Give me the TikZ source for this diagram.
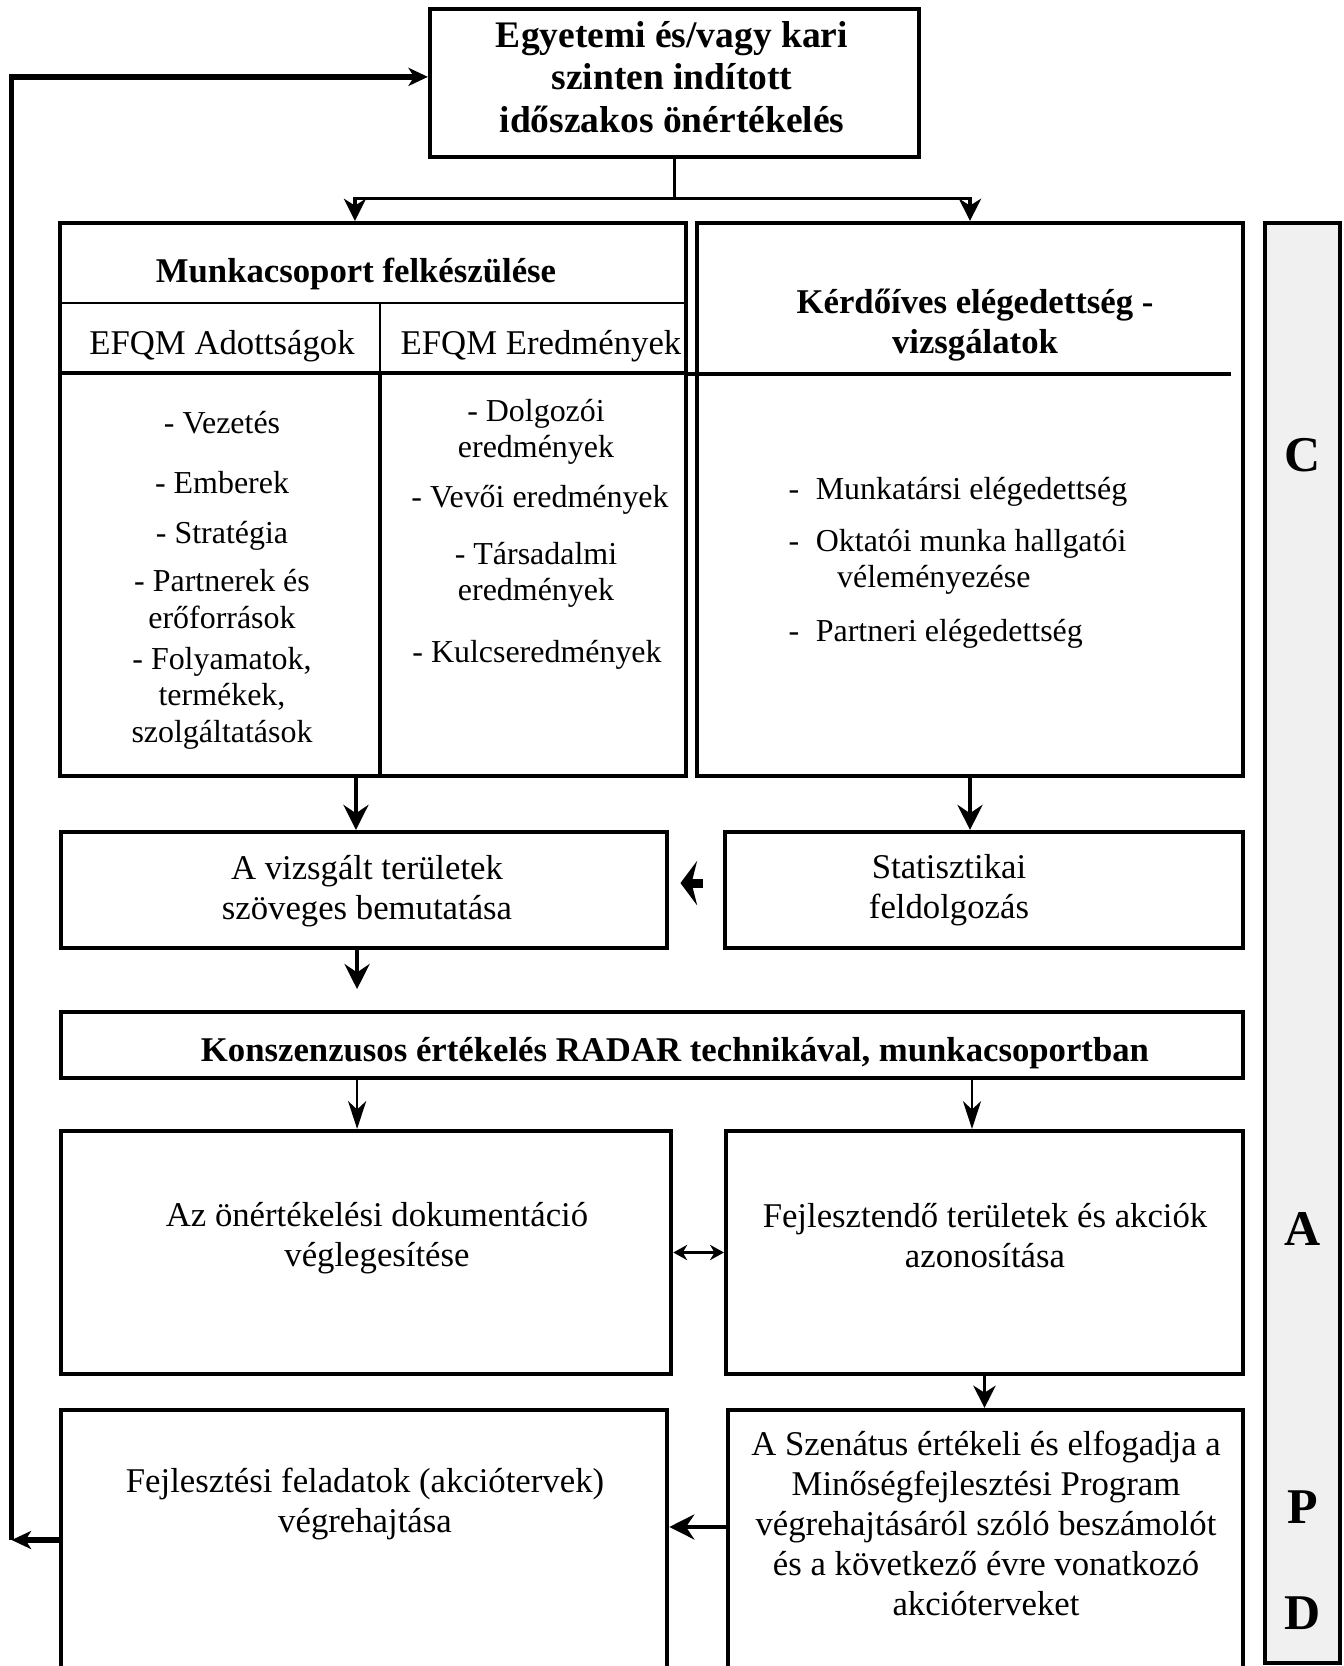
\documentclass[tikz,border=0pt]{standalone}
\usepackage{fontspec}
\setmainfont{Liberation Serif}
\usetikzlibrary{arrows.meta}

\begin{document}
\begin{tikzpicture}[
   x=0.36pt, y=-0.36pt,
   font=\fontsize{12.5}{14.4}\selectfont,
   sz/.style 2 args={minimum width=#1*0.36pt, minimum height=#2*0.36pt},
   box/.style={draw, line width=1.5pt, inner sep=0pt},
   strip/.style={draw, line width=1.5pt, fill=black!6, inner sep=0pt},
   txt/.style={align=center, inner sep=0pt},
   item/.style={align=center, inner sep=0pt, font=\fontsize{11.5}{13.1}\selectfont},
   head/.style={align=center, inner sep=0pt, font=\bfseries\fontsize{12.5}{14.2}\selectfont},
   title/.style={align=center, inner sep=0pt, font=\bfseries\fontsize{13.5}{15.3}\selectfont},
   letter/.style={inner sep=0pt, font=\bfseries\fontsize{18}{18}\selectfont},
   split/.style={-{Stealth[length=8pt,width=8pt,inset=2.5pt]}, line width=1.2pt},
   big/.style={-{Stealth[length=9pt,width=9pt,inset=3pt]}, line width=1.5pt},
   thin/.style={-{Stealth[length=10pt,width=6.5pt,inset=3pt]}, line width=0.9pt},
   wide/.style={-{Stealth[length=6pt,width=16pt,inset=2pt]}, line width=3.2pt},
   both/.style={{Stealth[length=5pt,width=5.5pt]}-{Stealth[length=5pt,width=5.5pt]}, line width=1pt},
   back/.style={-{Stealth[length=7pt,width=6.5pt,inset=2pt]}, line width=2pt}]
\useasboundingbox (0,0) rectangle (1344,1666);
\clip (0,0) rectangle (1344,1666);
% boxes
\node[box, sz={489}{148.5}] (top) at (674.5,83) {};
\node[box, sz={625.5}{553}] (munka) at (373,499.5) {};
\node[box, sz={546}{553}] (kerdo) at (970,499.5) {};
\node[box, sz={606.5}{116}] (vizsgalt) at (364,890) {};
\node[box, sz={518}{116}] (statiszt) at (984,890) {};
\node[box, sz={1182.5}{66}] (radar) at (652,1045) {};
\node[box, sz={610.5}{243}] (dokum) at (366,1252.5) {};
\node[box, sz={517}{243}] (fejl) at (984.5,1252.5) {};
\node[box, sz={606.5}{350}] (vegreh) at (364,1585) {};
\node[box, sz={515}{350}] (szenat) at (985.5,1585) {};
\node[strip, sz={75}{1440}] (pdca) at (1302.5,943) {};
% table lines
\draw[line width=1pt] (munka.west |- 0,303) -- (munka.east |- 0,303);
\draw[line width=1pt] (380,303) -- (380,373);
\draw[line width=1.5pt] (munka.west |- 0,373) -- (munka.east |- 0,373);
\draw[line width=1.5pt] (380,373) -- (380,776);
\draw[line width=1.3pt] (munka.east |- 0,374) -- (1231,374);
% texts
\node[title] (tlab) at (672,77) {Egyetemi és/vagy kari\\szinten indított\\időszakos önértékelés};
\node[head] (mlab) at (356,274) {Munkacsoport felkészülése};
\node[txt] (adot) at (222,346) {EFQM Adottságok};
\node[txt] (ered) at (541,346) {EFQM Eredmények};
\node[item] (vez) at (222,423) {- Vezetés};
\node[item] (emb) at (222,483) {- Emberek};
\node[item] (strat) at (222,536) {- Stratégia};
\node[item] (part) at (222,599) {- Partnerek és\\erőforrások};
\node[item] (foly) at (222,698) {- Folyamatok,\\termékek,\\szolgáltatások};
\node[item] (dolg) at (536,432) {- Dolgozói\\eredmények};
\node[item] (vevo) at (540,500) {- Vevői eredmények};
\node[item] (tars) at (536,575) {- Társadalmi\\eredmények};
\node[item] (kulcs) at (537,655) {- Kulcseredmények};
\node[head] (klab) at (975,325) {Kérdőíves elégedettség -\\vizsgálatok};
\node[item, anchor=west] (munk) at (788,492) {-\hspace{6pt}Munkatársi elégedettség};
\node[item, align=left, anchor=west] (okt) at (788,562) {-\hspace{6pt}Oktatói munka hallgatói\\\hspace*{17.5pt}véleményezése};
\node[item, anchor=west] (partn) at (788,634) {-\hspace{6pt}Partneri elégedettség};
\node[txt] (vlab) at (367,891) {A vizsgált területek\\szöveges bemutatása};
\node[txt] (slab) at (949,890) {Statisztikai\\feldolgozás};
\node[head] (rlab) at (675,1053) {Konszenzusos értékelés RADAR technikával, munkacsoportban};
\node[txt] (dlab) at (377,1238) {Az önértékelési dokumentáció\\véglegesítése};
\node[txt] (flab) at (985,1236) {Fejlesztendő területek és akciók\\azonosítása};
\node[txt] (glab) at (365,1504) {Fejlesztési feladatok (akciótervek)\\végrehajtása};
\node[txt] (zlab) at (986,1523) {A Szenátus értékeli és elfogadja a\\Minőségfejlesztési Program\\végrehajtásáról szóló beszámolót\\és a következő évre vonatkozó\\akcióterveket};
\node[letter] (c) at (1303,455) {C};
\node[letter] (a) at (1303,1229) {A};
\node[letter] (p) at (1303,1507) {P};
\node[letter] (d) at (1303,1613) {D};
% connectors
\draw[line width=1.2pt] (top.south) -- ++(0,39) coordinate (fork);
\draw[split] (fork) -| ([xshift=-6.5pt]munka.north);
\draw[split] (fork) -| (kerdo.north);
\draw[big] ([xshift=-2.9pt]vizsgalt.north |- munka.south) -- ([xshift=-2.9pt]vizsgalt.north);
\draw[big] (kerdo.south) -- (kerdo.south |- statiszt.north);
\draw[wide, shorten <=7pt, shorten >=4pt] ([yshift=2.5pt]statiszt.west) -- ([yshift=2.5pt]vizsgalt.east);
\draw[big, shorten >=7.5pt] ([xshift=-2.5pt]vizsgalt.south) -- ([xshift=-2.5pt]vizsgalt.south |- radar.north);
\draw[thin] ([xshift=-3.2pt]dokum.north |- radar.south) -- ([xshift=-3.2pt]dokum.north);
\draw[thin] ([xshift=-4.5pt]fejl.north |- radar.south) -- ([xshift=-4.5pt]fejl.north);
\draw[both] (dokum.east) -- (fejl.west);
\draw[split] (fejl.south) -- (fejl.south |- szenat.north);
\draw[big] ([yshift=20.9pt]szenat.west) -- ([yshift=20.9pt]vegreh.east);
\draw[back] ([yshift=16.2pt]vegreh.west) -- ++(-47,0) coordinate (loop);
\draw[back] (loop) |- ([yshift=2.2pt]top.west);
\end{tikzpicture}
\end{document}
